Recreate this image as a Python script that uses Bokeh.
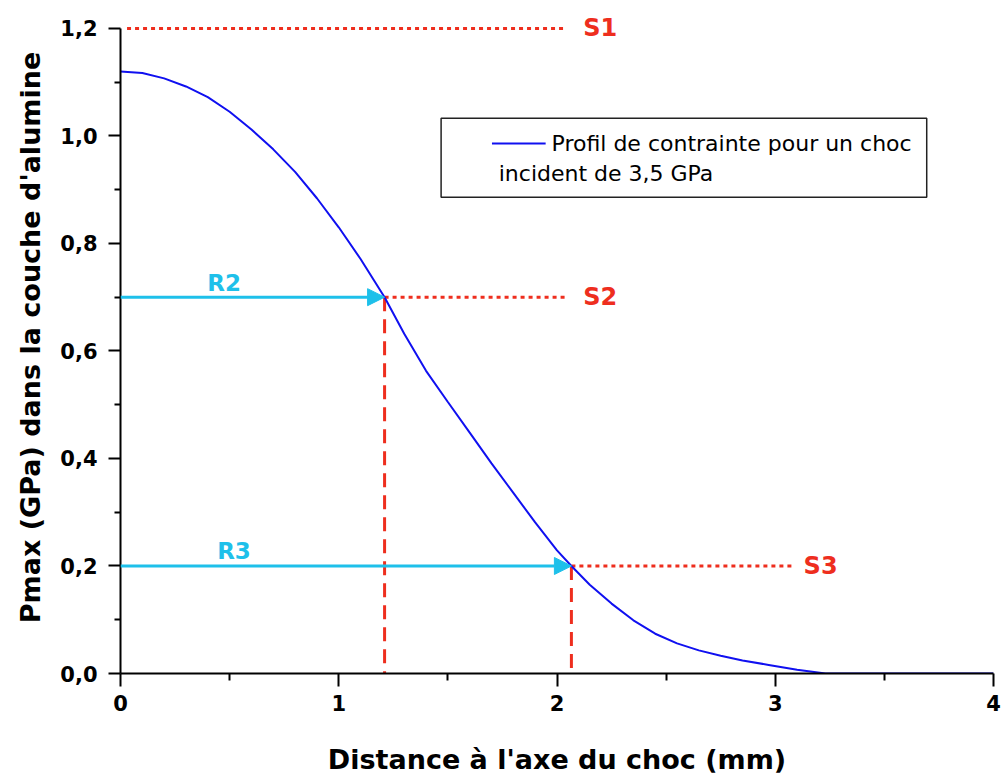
from bokeh.plotting import figure
from bokeh.models import (Range1d, FixedTicker, Arrow, NormalHead, Label, BoxAnnotation)
from bokeh.embed import file_html
from bokeh.resources import INLINE

# --- data ---
dist_mm = [0.0, 0.1, 0.2, 0.3, 0.4, 0.5, 0.6, 0.7, 0.8, 0.9, 1.0, 1.1, 1.21, 1.3, 1.4,
           1.5, 1.6, 1.7, 1.8, 1.9, 2.0, 2.066, 2.15, 2.25, 2.35, 2.45, 2.55, 2.65,
           2.75, 2.85, 2.97, 3.1, 3.23, 4.0]
pmax_gpa = [1.12, 1.117, 1.107, 1.092, 1.072, 1.045, 1.012, 0.975, 0.933, 0.884, 0.83,
            0.771, 0.70, 0.632, 0.563, 0.505, 0.448, 0.391, 0.336, 0.281, 0.229, 0.2,
            0.165, 0.13, 0.099, 0.074, 0.056, 0.043, 0.033, 0.024, 0.016, 0.007, 0.0, 0.0]

s_names = ["S1", "S2", "S3"]
s_levels = [1.2, 0.7, 0.2]
s_line_start = [0.03, 1.21, 2.066]
s_line_end = [2.04, 2.04, 3.08]

r_names = ["R2", "R3"]
r_levels = [0.7, 0.2]
r_radius = [1.21, 2.066]

x_ticks = [0, 1, 2, 3, 4]
x_minor = [0.5, 1.5, 2.5, 3.5]
y_ticks = [0.0, 0.2, 0.4, 0.6, 0.8, 1.0, 1.2]
y_tick_labels = ["0,0", "0,2", "0,4", "0,6", "0,8", "1,0", "1,2"]
y_minor = [0.1, 0.3, 0.5, 0.7, 0.9, 1.1]

legend_lines = ["Profil de contrainte pour un choc", "incident de 3,5 GPa"]

RED = "#EE2E1E"
CYAN = "#1EC0EA"
BLUE = "#1010F0"
FONT = "DejaVu Sans"

p = figure(width=1006, height=780, output_backend="svg", toolbar_location=None,
           x_range=Range1d(0, 4), y_range=Range1d(0, 1.25),
           min_border_left=120, min_border_top=1, min_border_bottom=107, min_border_right=13)
p.outline_line_color = None
p.xgrid.visible = False
p.ygrid.visible = False

# axes styling
for ax in (p.xaxis[0], p.yaxis[0]):
    ax.axis_line_width = 2
    ax.axis_line_color = "black"
    ax.major_tick_line_width = 2
    ax.minor_tick_line_width = 2
    ax.major_tick_in = 0
    ax.minor_tick_in = 0
    ax.major_label_text_font = FONT
    ax.major_label_text_font_style = "bold"
    ax.major_label_text_font_size = "21px"
    ax.major_label_text_color = "black"
    ax.axis_label_text_font = FONT
    ax.axis_label_text_font_style = "bold"
    ax.axis_label_text_font_size = "27px"
    ax.axis_label_text_color = "black"

p.xaxis.ticker = FixedTicker(ticks=x_ticks, minor_ticks=x_minor)
p.xaxis.major_tick_out = 13
p.xaxis.minor_tick_out = 7
p.xaxis.major_label_standoff = 8
p.xaxis.axis_label = "Distance à l'axe du choc (mm)"
p.xaxis.axis_label_standoff = 30

p.yaxis.ticker = FixedTicker(ticks=y_ticks, minor_ticks=y_minor)
p.yaxis.bounds = (0, 1.2)
p.yaxis.major_label_overrides = {t: l for t, l in zip(y_ticks, y_tick_labels)}
p.yaxis.major_tick_out = 12
p.yaxis.minor_tick_out = 6
p.yaxis.major_label_standoff = 11
p.yaxis.axis_label = "Pmax (GPa) dans la couche d'alumine"
p.yaxis.axis_label_standoff = 11

# legend box (manual), drawn beneath glyphs
p.add_layout(BoxAnnotation(left=1.469, right=3.694, top=1.033, bottom=0.886,
                           fill_color="white", fill_alpha=1.0,
                           line_color="#222222", line_alpha=1.0, line_width=1.5,
                           level="underlay"))

# threshold dotted lines
p.segment(x0=s_line_start, y0=s_levels, x1=s_line_end, y1=s_levels,
          line_color=RED, line_width=3, line_dash="4 4")

# dashed verticals
p.segment(x0=r_radius, y0=r_levels, x1=r_radius, y1=[0, 0],
          line_color=RED, line_width=3, line_dash="14 8")

# curve
p.line(dist_mm, pmax_gpa, line_color=BLUE, line_width=2)

# cyan arrows
for lvl, rad in zip(r_levels, r_radius):
    p.add_layout(Arrow(end=NormalHead(size=17, fill_color=CYAN, line_color=CYAN),
                       x_start=0, y_start=lvl, x_end=rad, y_end=lvl,
                       line_color=CYAN, line_width=3))

# labels
s_label_x = [2.12, 2.12, 3.13]
for name, lvl, lx in zip(s_names, s_levels, s_label_x):
    p.add_layout(Label(x=lx, y=lvl, text=name, text_color=RED, text_font=FONT,
                       text_font_style="bold", text_font_size="24px",
                       text_baseline="middle", text_align="left"))
r_label_x = [0.475, 0.52]
for name, lvl, lx in zip(r_names, r_levels, r_label_x):
    p.add_layout(Label(x=lx, y=lvl + 0.027, text=name, text_color=CYAN, text_font=FONT,
                       text_font_style="bold", text_font_size="23px",
                       text_baseline="middle", text_align="center"))

# legend content
p.line([1.702, 1.948], [0.986, 0.986], line_color=BLUE, line_width=2)
p.add_layout(Label(x=1.975, y=0.986, text=legend_lines[0], text_font=FONT,
                   text_font_size="22px", text_color="black",
                   text_baseline="middle", text_align="left"))
p.add_layout(Label(x=1.733, y=0.930, text=legend_lines[1], text_font=FONT,
                   text_font_size="22px", text_color="black",
                   text_baseline="middle", text_align="left"))

open("out.html", "w").write(file_html(p, INLINE))
